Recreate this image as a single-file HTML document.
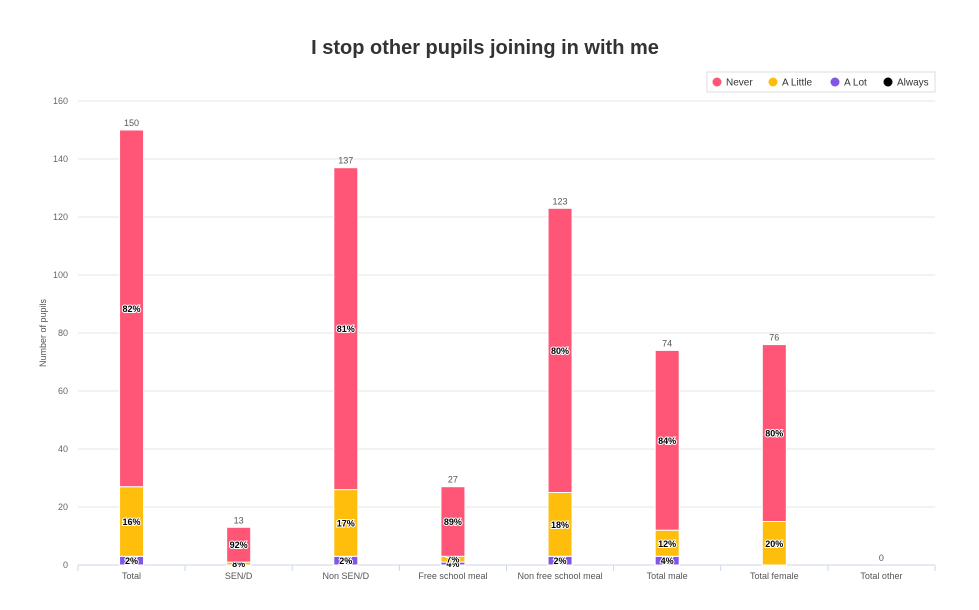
<!DOCTYPE html>
<html><head><meta charset="utf-8"><style>
body{margin:0;background:#fff;font-family:"Liberation Sans",sans-serif;}
</style></head><body>
<svg id="chart" width="979" height="605" xmlns="http://www.w3.org/2000/svg" font-family="Liberation Sans, sans-serif">
<text x="485" y="54" text-anchor="middle" font-size="20" font-weight="bold" fill="#333">I stop other pupils joining in with me</text>
<g>
<rect x="707" y="72" width="228" height="20" fill="#fff" stroke="#ddd"/>
<g><circle cx="717" cy="82" r="4.5" fill="#ff5577"/><text x="726" y="85.5" font-size="10" fill="#333">Never</text></g>
<g><circle cx="773" cy="82" r="4.5" fill="#ffbe0b"/><text x="782" y="85.5" font-size="10" fill="#333">A Little</text></g>
<g><circle cx="835" cy="82" r="4.5" fill="#8155e6"/><text x="844" y="85.5" font-size="10" fill="#333">A Lot</text></g>
<g><circle cx="888" cy="82" r="4.5" fill="#000"/><text x="897" y="85.5" font-size="10" fill="#333">Always</text></g>
</g>
<text transform="translate(46,333) rotate(-90)" text-anchor="middle" font-size="9" fill="#555">Number of pupils</text>
<g id="grid"></g><g id="bars"></g>
</svg>
<script>
const categories=["Total","SEN/D","Non SEN/D","Free school meal","Non free school meal","Total male","Total female","Total other"];
const never=[123,12,111,24,98,62,61,0];
const aLittle=[24,1,23,2,22,9,15,0];
const aLot=[3,0,3,1,3,3,0,0];
const always=[0,0,0,0,0,0,0,0];
const totals=[150,13,137,27,123,74,76,0];
const yTicks=[0,20,40,60,80,100,120,140,160];
const NS="http://www.w3.org/2000/svg";
const x0=78,x1=935,yBase=565,yTop=101,yMax=160;
const y=v=>yBase-(v/yMax)*(yBase-yTop);
const band=(x1-x0)/categories.length;
const xc=i=>x0+band*(i+0.5);
function mk(t,a,p){const e=document.createElementNS(NS,t);for(const k in a)e.setAttribute(k,a[k]);p.appendChild(e);return e;}
const grid=document.getElementById('grid'),bars=document.getElementById('bars');
yTicks.forEach(v=>{
 const l=mk('line',{x1:x0,x2:x1,y1:y(v),y2:y(v),stroke:v===0?'#ccd6eb':'#e6e6e6'},grid);
 
 
 const t=mk('text',{x:68,y:y(v)+3,'text-anchor':'end','font-size':'9',fill:'#666'},grid);t.textContent=v;
 
 
});
for(let i=0;i<=categories.length;i++){mk('line',{x1:x0+band*i,x2:x0+band*i,y1:yBase,y2:yBase+6,stroke:'#ccd6eb'},grid);}
const series=[{d:aLot,c:'#8155e6',n:'a-lot'},{d:aLittle,c:'#ffbe0b',n:'a-little'},{d:never,c:'#ff5577',n:'never'},{d:always,c:'#000',n:'always'}];
const bw=24;
categories.forEach((c,i)=>{
 let acc=0;
 series.forEach(s=>{
  const v=s.d[i];if(v<=0)return;
  const r=mk('rect',{x:xc(i)-bw/2,y:y(acc+v),width:bw,height:y(acc)-y(acc+v),fill:s.c,stroke:'#fff','stroke-width':1},bars);
  
  
  const pct=Math.round(v/totals[i]*100);
  if(pct>=2&&!(s.n==='a-lot'&&pct<2)){
   const t=mk('text',{x:xc(i),y:(y(acc)+y(acc+v))/2+3.5,'text-anchor':'middle','font-size':'9','font-weight':'bold',fill:'#000',stroke:'#fff','stroke-width':'2','paint-order':'stroke'},bars);
   t.textContent=pct+'%';
   
   
  }
  acc+=v;
 });
 const tt=mk('text',{x:xc(i),y:y(totals[i])-4,'text-anchor':'middle','font-size':'9',fill:'#555'},bars);tt.textContent=totals[i];
 
 
 const xl=mk('text',{x:xc(i),y:579,'text-anchor':'middle','font-size':'9',fill:'#555'},bars);xl.textContent=c;
 
 
});
</script>
</body></html>
